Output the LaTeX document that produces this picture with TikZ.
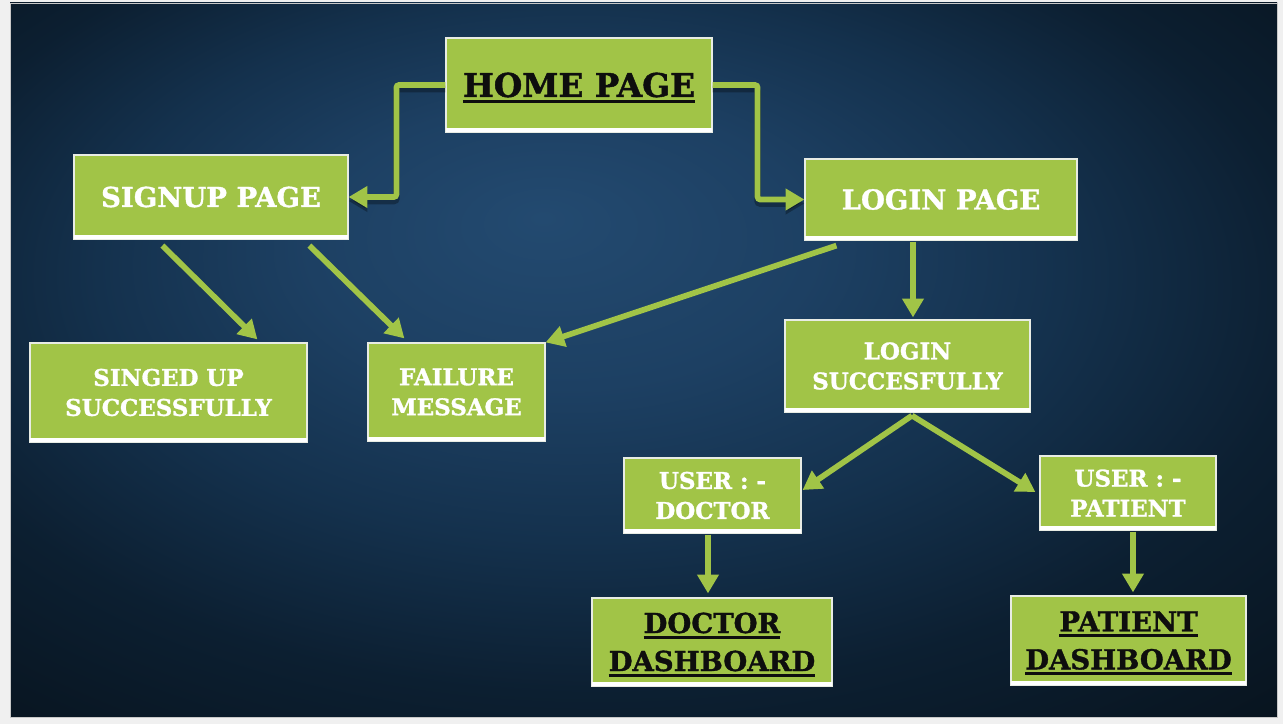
\documentclass[tikz,border=0pt]{standalone}
\usepackage{fontspec}
\newfontfamily\slabfont{DejaVu Serif}[BoldFeatures={FakeBold=1.3}]
\usetikzlibrary{arrows.meta,calc}

\definecolor{leaf}{HTML}{A1C447}
\definecolor{frame}{HTML}{F0F0F0}
\definecolor{frameline}{HTML}{C8C8C8}
\definecolor{inkblack}{HTML}{0E0E0E}
\definecolor{boxedge}{HTML}{E8ECE4}
\definecolor{bgA}{HTML}{234A70}
\definecolor{bgB}{HTML}{1D4063}
\definecolor{bgC}{HTML}{14314D}
\definecolor{bgD}{HTML}{0C1F31}
\definecolor{bgE}{HTML}{08141F}
\definecolor{bgF}{HTML}{050B12}

% night-blue backdrop, lighter towards the upper middle
\pgfdeclareradialshading{backdrop}{\pgfpoint{-4bp}{10bp}}{%
  color(0bp)=(bgA);
  color(10bp)=(bgB);
  color(19bp)=(bgC);
  color(28bp)=(bgD);
  color(38bp)=(bgE);
  color(52bp)=(bgF)}

% underlined word for the black headings
\newcommand\ulword[1]{\sbox0{#1}\rlap{\smash{\rule[-4.6pt]{\wd0}{2.3pt}}}\usebox0}

\tikzset{
  box/.style={fill=leaf, draw=boxedge, line width=0.9pt, inner sep=0pt,
    align=center, text=white},
  size/.style 2 args={minimum width=#1*0.75pt, minimum height=#2*0.75pt},
  midtext/.style={font=\slabfont\bfseries\fontsize{20.6}{26}\selectfont},
  smalltext/.style={font=\slabfont\bfseries\fontsize{17.2}{22.5}\selectfont},
  headtext/.style={text=inkblack, font=\slabfont\bfseries\fontsize{24.5}{30}\selectfont},
  dashtext/.style={text=inkblack, font=\slabfont\bfseries\fontsize{20.6}{28.5}\selectfont},
  arr/.style={draw=leaf, line width=4.3pt, rounded corners=2pt,
    -{Triangle[length=14pt,width=15.5pt]}},
  shadowed/.style={preaction={draw=black, opacity=0.3, line width=5pt,
    transform canvas={yshift=-3pt}}},
}

\begin{document}
\begin{tikzpicture}[x=0.75pt, y=-0.75pt]
  \useasboundingbox (0,0) rectangle (1283,724);
  % frame and backdrop
  \fill[frame] (0,0) rectangle (1283,724);
  \shade[shading=backdrop] (10,3) rectangle (1277,717);
  \draw[frameline, line width=0.6pt] (10,3) rectangle (1277,717);

  % boxes
  \node[box, size={266}{94}, headtext] (home)   at (579,85)     {\ulword{HOME PAGE}};
  \node[box, size={274}{84}, midtext]  (signup) at (211,197)    {SIGNUP PAGE};
  \node[box, size={272}{81}, midtext]  (login)  at (941,199.5)  {LOGIN PAGE};
  \node[box, size={277}{99}, smalltext] (signed) at (168.5,392.5) {SINGED UP\\SUCCESSFULLY};
  \node[box, size={177}{98}, smalltext] (fail)   at (456.5,392) {FAILURE\\MESSAGE};
  \node[box, size={245}{92}, smalltext] (lsucc)  at (907.5,366) {LOGIN\\SUCCESFULLY};
  \node[box, size={177}{75}, smalltext] (udoc)   at (712.5,495.5) {USER : -\\DOCTOR};
  \node[box, size={176}{74}, smalltext] (upat)   at (1128,493)  {USER : -\\PATIENT};
  \node[box, size={240}{88}, dashtext] (ddash)  at (712,642)    {\ulword{DOCTOR}\\\ulword{DASHBOARD}};
  \node[box, size={235}{89}, dashtext] (pdash)  at (1128.5,640.5) {\ulword{PATIENT}\\\ulword{DASHBOARD}};

  % white strip along the lower edge of every box
  \foreach \n in {home,signup,login,signed,fail,lsucc,udoc,upat,ddash,pdash}
    \fill[white] ($(\n.south west)+(0.6,-0.6)$) rectangle ($(\n.south east)+(-0.6,-4.6)$);

  % connectors
  \draw[arr, shadowed] (home.west) -- ++(-49,0) |- (signup.east);
  \draw[arr, shadowed] (home.east) -- ++(45,0) |- (login.west);
  \draw[arr] ($(signup.south west)+(89,6)$) -- ($(signed.north west)+(228,-3)$);
  \draw[arr] ($(signup.south west)+(236,6)$) -- ($(fail.north west)+(37,-4)$);
  \draw[arr] ($(login.south west)+(32,5)$) -- ($(fail.north east)+(0,0)$);
  \coordinate (lp) at ($(login.south)+(-28,1)$);
  \draw[arr] (lp) -- ($(lp |- lsucc.north)+(0,-2)$);
  \coordinate (apex) at ($(lsucc.south)+(4.5,3)$);
  \draw[arr] (apex) -- ($(udoc.east)+(1,-5.5)$);
  \draw[arr] (apex) -- ($(upat.west)+(-4,-1)$);
  \coordinate (dp) at ($(udoc.south)+(-4.5,1)$);
  \draw[arr] (dp) -- ($(dp |- ddash.north)+(0,-4)$);
  \coordinate (pp) at ($(upat.south)+(5,1)$);
  \draw[arr] (pp) -- ($(pp |- pdash.north)+(0,-3)$);
\end{tikzpicture}
\end{document}
